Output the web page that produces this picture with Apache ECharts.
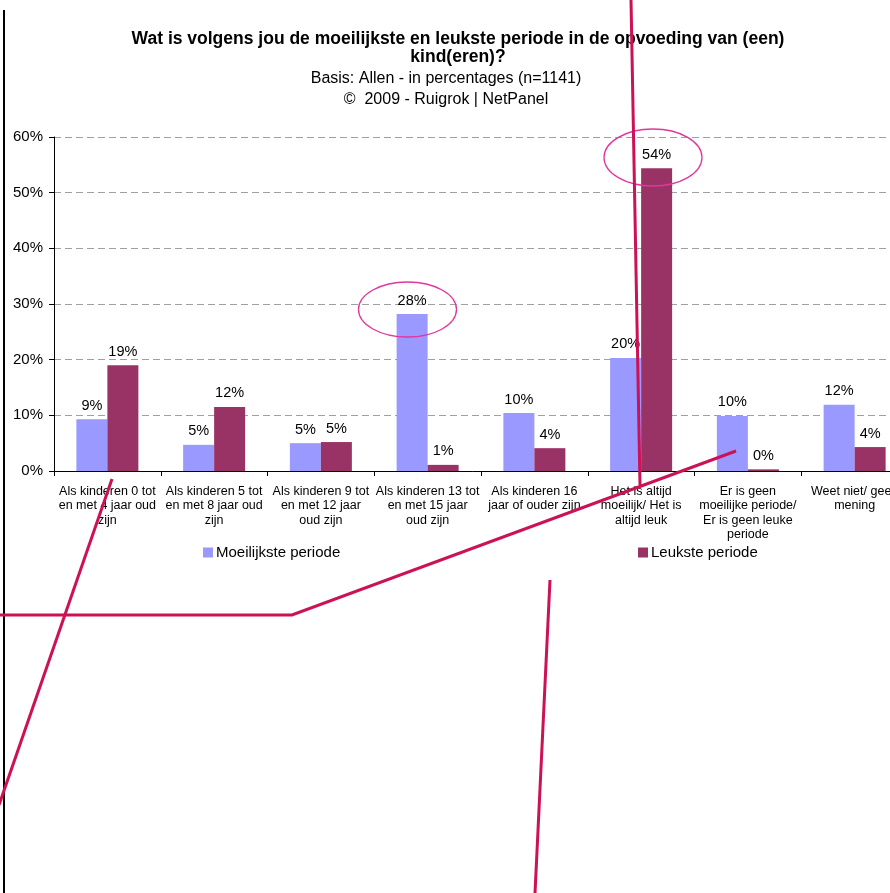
<!DOCTYPE html>
<html>
<head>
<meta charset="utf-8">
<script src="https://cdn.jsdelivr.net/npm/echarts@6/dist/echarts.min.js"></script>
<style>
html,body{margin:0;padding:0;background:#fff;}
#main{width:890px;height:893px;}
</style>
</head>
<body>
<div id="main"></div>
<script>
const categories = [
  'Als kinderen 0 tot\nen met 4 jaar oud\nzijn',
  'Als kinderen 5 tot\nen met 8 jaar oud\nzijn',
  'Als kinderen 9 tot\nen met 12 jaar\noud zijn',
  'Als kinderen 13 tot\nen met 15 jaar\noud zijn',
  'Als kinderen 16\njaar of ouder zijn',
  'Het is altijd\nmoeilijk/ Het is\naltijd leuk',
  'Er is geen\nmoeilijke periode/\nEr is geen leuke\nperiode',
  'Weet niet/ geen\nmening'
];
const moeilijkste = [9.3, 4.7, 5.0, 28.2, 10.4, 20.3, 9.9, 11.9];
const leukste = [19.0, 11.5, 5.2, 1.1, 4.1, 54.4, 0.3, 4.3];
const seriesNames = ['Moeilijkste periode', 'Leukste periode'];
const yTicks = {min: 0, max: 60, interval: 10};

const FONT = '"Liberation Sans", Arial, sans-serif';
const chart = echarts.init(document.getElementById('main'), null, {renderer: 'canvas'});

const labelCfg = {
  show: true, position: 'top', distance: 6,
  fontFamily: FONT, fontSize: 14.5, color: '#000',
  formatter: p => Math.round(p.value) + '%'
};

const RED = '#CC1155';
const PINK = '#E0369E';

chart.setOption({
  animation: false,
  backgroundColor: '#fff',
  title: [
    {
      text: 'Wat is volgens jou de moeilijkste en leukste periode in de opvoeding van (een)\nkind(eren)?',
      left: 458, top: 29.5, textAlign: 'center', padding: 0,
      textStyle: {fontFamily: FONT, fontSize: 17.5, fontWeight: 'bold', color: '#000', lineHeight: 18.5}
    },
    {
      text: 'Basis: Allen - in percentages (n=1141)\n©  2009 - Ruigrok | NetPanel',
      left: 446, top: 68.5, textAlign: 'center', padding: 0,
      textStyle: {fontFamily: FONT, fontSize: 16, fontWeight: 'normal', color: '#000', lineHeight: 21}
    }
  ],
  legend: [
    {data: [seriesNames[0]], left: 203, top: 545, padding: 0, itemWidth: 10, itemHeight: 10, icon: 'rect',
     textStyle: {fontFamily: FONT, fontSize: 15, color: '#000', padding: [0,0,0,-2]}},
    {data: [seriesNames[1]], left: 638, top: 545, padding: 0, itemWidth: 10, itemHeight: 10, icon: 'rect',
     textStyle: {fontFamily: FONT, fontSize: 15, color: '#000', padding: [0,0,0,-2]}}
  ],
  grid: {left: 54, top: 137, width: 854, height: 334, containLabel: false, outerBoundsMode: 'none'},
  xAxis: {
    type: 'category',
    data: categories,
    axisLine: {lineStyle: {color: '#000', width: 1}},
    axisTick: {show: true, length: 5, inside: false, alignWithLabel: false, lineStyle: {color: '#000'}},
    axisLabel: {interval: 0, margin: 13, fontFamily: FONT, fontSize: 12.5, lineHeight: 14.5, color: '#000', align: 'center', hideOverlap: false},
    splitLine: {show: false}
  },
  yAxis: {
    type: 'value',
    min: yTicks.min, max: yTicks.max, interval: yTicks.interval,
    axisLine: {show: true, lineStyle: {color: '#000', width: 1}},
    axisTick: {show: true, length: 5, inside: false, lineStyle: {color: '#000'}},
    axisLabel: {formatter: '{value}%', margin: 11, fontFamily: FONT, fontSize: 15, color: '#000'},
    splitLine: {show: true, lineStyle: {color: '#A0A0A0', type: [7, 4], width: 1}}
  },
  series: [
    {name: seriesNames[0], type: 'bar', data: moeilijkste, barWidth: 31, barGap: '0%',
     itemStyle: {color: '#9999FF'}, label: labelCfg},
    {name: seriesNames[1], type: 'bar', data: leukste, barWidth: 31, barGap: '0%',
     itemStyle: {color: '#993366'}, label: labelCfg}
  ],
  graphic: [
    {type: 'line', z: 100, shape: {x1: 4, y1: 10, x2: 4, y2: 893}, style: {stroke: '#000', lineWidth: 2}},
    {type: 'ellipse', z: 100, shape: {cx: 407.5, cy: 309.5, rx: 49, ry: 27.5}, style: {fill: null, stroke: PINK, lineWidth: 1.3}},
    {type: 'ellipse', z: 100, shape: {cx: 653, cy: 157.5, rx: 49, ry: 28.5}, style: {fill: null, stroke: PINK, lineWidth: 1.3}},
    {type: 'line', z: 101, shape: {x1: 631, y1: 0, x2: 640, y2: 485}, style: {stroke: RED, lineWidth: 3}},
    {type: 'polyline', z: 101, shape: {points: [[0, 615], [292, 615], [736, 451]]}, style: {stroke: RED, lineWidth: 3, fill: null}},
    {type: 'line', z: 101, shape: {x1: 112, y1: 479, x2: -1, y2: 805}, style: {stroke: RED, lineWidth: 3}},
    {type: 'line', z: 101, shape: {x1: 550, y1: 580, x2: 535, y2: 893}, style: {stroke: RED, lineWidth: 3}}
  ]
});
</script>
</body>
</html>
